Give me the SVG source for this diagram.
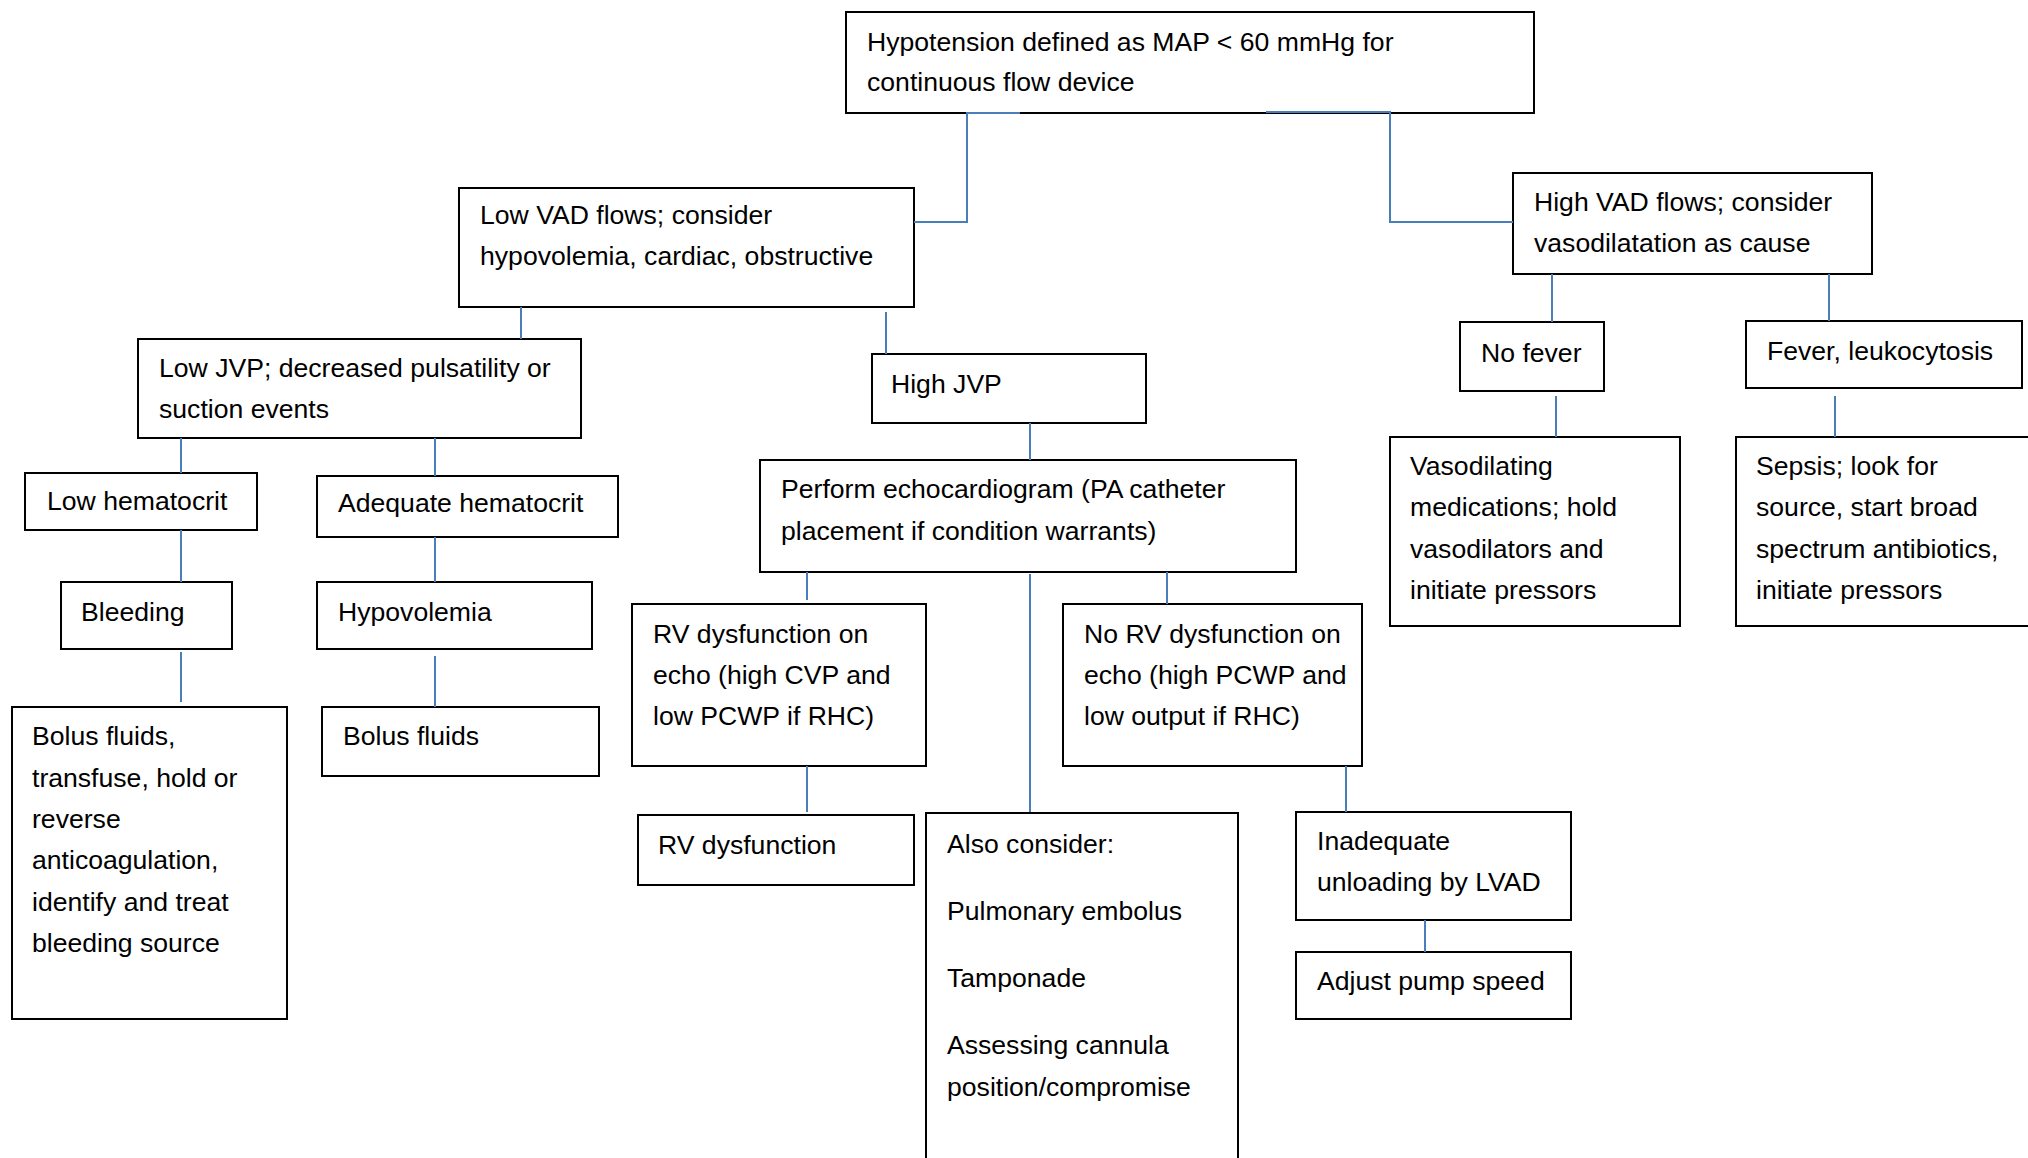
<svg xmlns="http://www.w3.org/2000/svg" width="2028" height="1158" viewBox="0 0 2028 1158">
<style>
.box{fill:#fff;stroke:#000;stroke-width:2}
.t{font-family:"Liberation Sans",Arial,sans-serif;font-size:26.6px;fill:#000}
.c{fill:none;stroke:#4a7ebb;stroke-width:2}
</style>
<rect width="2028" height="1158" fill="#fff"/>
<g id="n-top"><rect class="box" x="846" y="12" width="688" height="101"/><text class="t" x="867" y="51">Hypotension defined as MAP &lt; 60 mmHg for</text><text class="t" x="867" y="91">continuous flow device</text></g>
<g id="n-lowvad"><rect class="box" x="459" y="188" width="455" height="119"/><text class="t" x="480" y="224">Low VAD flows; consider</text><text class="t" x="480" y="265">hypovolemia, cardiac, obstructive</text></g>
<g id="n-highvad"><rect class="box" x="1513" y="173" width="359" height="101"/><text class="t" x="1534" y="211">High VAD flows; consider</text><text class="t" x="1534" y="252">vasodilatation as cause</text></g>
<g id="n-lowjvp"><rect class="box" x="138" y="339" width="443" height="99"/><text class="t" x="159" y="377">Low JVP; decreased pulsatility or</text><text class="t" x="159" y="418">suction events</text></g>
<g id="n-highjvp"><rect class="box" x="872" y="354" width="274" height="69"/><text class="t" x="891" y="393">High JVP</text></g>
<g id="n-lowhct"><rect class="box" x="25" y="473" width="232" height="57"/><text class="t" x="47" y="510">Low hematocrit</text></g>
<g id="n-adehct"><rect class="box" x="317" y="476" width="301" height="61"/><text class="t" x="338" y="512">Adequate hematocrit</text></g>
<g id="n-bleeding"><rect class="box" x="61" y="582" width="171" height="67"/><text class="t" x="81" y="621">Bleeding</text></g>
<g id="n-hypovol"><rect class="box" x="317" y="582" width="275" height="67"/><text class="t" x="338" y="621">Hypovolemia</text></g>
<g id="n-bolus1"><rect class="box" x="12" y="707" width="275" height="312"/><text class="t" x="32" y="745">Bolus fluids,</text><text class="t" x="32" y="787">transfuse, hold or</text><text class="t" x="32" y="828">reverse</text><text class="t" x="32" y="869">anticoagulation,</text><text class="t" x="32" y="911">identify and treat</text><text class="t" x="32" y="952">bleeding source</text></g>
<g id="n-bolus2"><rect class="box" x="322" y="707" width="277" height="69"/><text class="t" x="343" y="745">Bolus fluids</text></g>
<g id="n-echo"><rect class="box" x="760" y="460" width="536" height="112"/><text class="t" x="781" y="498">Perform echocardiogram (PA catheter</text><text class="t" x="781" y="540">placement if condition warrants)</text></g>
<g id="n-rvecho"><rect class="box" x="632" y="604" width="294" height="162"/><text class="t" x="653" y="643">RV dysfunction on</text><text class="t" x="653" y="684">echo (high CVP and</text><text class="t" x="653" y="725">low PCWP if RHC)</text></g>
<g id="n-norv"><rect class="box" x="1063" y="604" width="299" height="162"/><text class="t" x="1084" y="643">No RV dysfunction on</text><text class="t" x="1084" y="684">echo (high PCWP and</text><text class="t" x="1084" y="725">low output if RHC)</text></g>
<g id="n-rvdys"><rect class="box" x="638" y="815" width="276" height="70"/><text class="t" x="658" y="854">RV dysfunction</text></g>
<g id="n-also"><rect class="box" x="926" y="813" width="312" height="360"/><text class="t" x="947" y="853">Also consider:</text><text class="t" x="947" y="920">Pulmonary embolus</text><text class="t" x="947" y="987">Tamponade</text><text class="t" x="947" y="1054">Assessing cannula</text><text class="t" x="947" y="1096">position/compromise</text></g>
<g id="n-inadeq"><rect class="box" x="1296" y="812" width="275" height="108"/><text class="t" x="1317" y="850">Inadequate</text><text class="t" x="1317" y="891">unloading by LVAD</text></g>
<g id="n-adjust"><rect class="box" x="1296" y="952" width="275" height="67"/><text class="t" x="1317" y="990">Adjust pump speed</text></g>
<g id="n-nofever"><rect class="box" x="1460" y="322" width="144" height="69"/><text class="t" x="1481" y="362">No fever</text></g>
<g id="n-fever"><rect class="box" x="1746" y="321" width="276" height="67"/><text class="t" x="1767" y="360">Fever, leukocytosis</text></g>
<g id="n-vasodil"><rect class="box" x="1390" y="437" width="290" height="189"/><text class="t" x="1410" y="475">Vasodilating</text><text class="t" x="1410" y="516">medications; hold</text><text class="t" x="1410" y="558">vasodilators and</text><text class="t" x="1410" y="599">initiate pressors</text></g>
<g id="n-sepsis"><rect class="box" x="1736" y="437" width="300" height="189"/><text class="t" x="1756" y="475">Sepsis; look for</text><text class="t" x="1756" y="516">source, start broad</text><text class="t" x="1756" y="558">spectrum antibiotics,</text><text class="t" x="1756" y="599">initiate pressors</text></g>
<g id="connectors">
<path class="c" d="M1020 113H967V222H914"/>
<path class="c" d="M1266 112H1390V222H1513"/>
<path class="c" d="M521 307V339"/>
<path class="c" d="M886 312V354"/>
<path class="c" d="M181 438V473"/>
<path class="c" d="M435 438V476"/>
<path class="c" d="M181 530V582"/>
<path class="c" d="M435 537V582"/>
<path class="c" d="M181 652V702"/>
<path class="c" d="M435 656V707"/>
<path class="c" d="M1030 423V460"/>
<path class="c" d="M807 572V600"/>
<path class="c" d="M1030 574V812"/>
<path class="c" d="M1167 572V604"/>
<path class="c" d="M807 766V812"/>
<path class="c" d="M1346 766V812"/>
<path class="c" d="M1425 920V952"/>
<path class="c" d="M1552 274V322"/>
<path class="c" d="M1829 274V321"/>
<path class="c" d="M1556 396V437"/>
<path class="c" d="M1835 396V437"/>
</g>
</svg>
